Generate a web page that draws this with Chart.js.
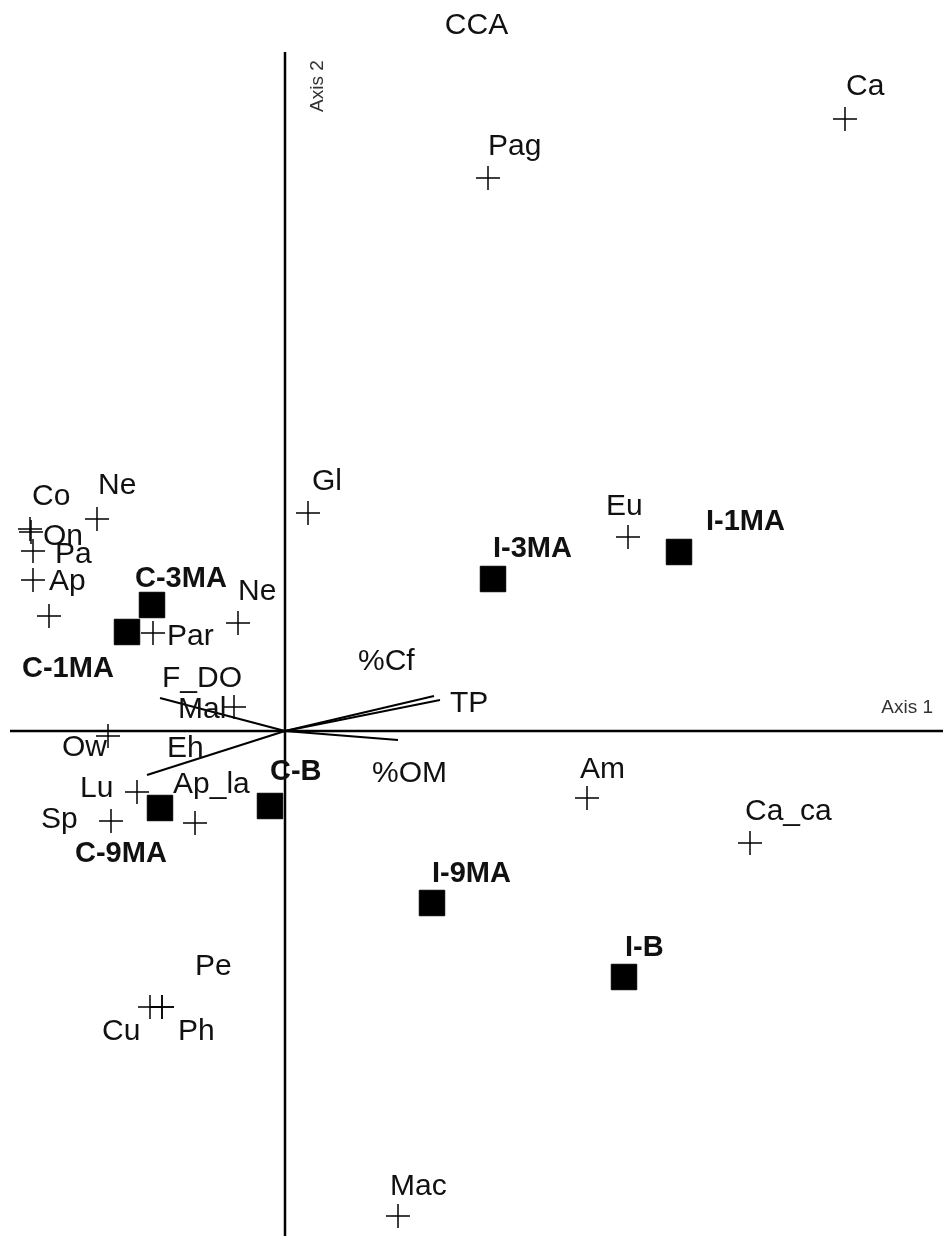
<!DOCTYPE html>
<html>
<head>
<meta charset="utf-8">
<script src="https://cdn.jsdelivr.net/npm/chart.js@4.4.0/dist/chart.umd.min.js"></script>
<style>
  html, body { margin: 0; padding: 0; background: #fff; }
  #wrapper { width: 943px; height: 1236px; }
</style>
</head>
<body>
<div id="wrapper"><canvas id="ccaChart"></canvas></div>
<script>
// species scores (crosses)
var speciesNames = ['Ca', 'Pag', 'Gl', 'Co', 'On', 'Ne', 'Pa', 'Ap', '', 'Ne', 'Par', 'Mal',
  'Ow', 'Lu', 'Sp', 'Ap_la', 'Am', 'Ca_ca', 'Eu', 'Cu', 'Ph', 'Pe', 'Mac'];
var speciesX = [5.60, 2.03, 0.23, -2.55, -2.54, -1.88, -2.52, -2.52, -2.36, -0.47, -1.32, -0.51,
  -1.77, -1.48, -1.74, -0.90, 3.02, 4.65, 3.43, -1.35, -1.23, -1.23, 1.13];
var speciesY = [6.12, 5.53, 2.18, 2.02, 1.99, 2.12, 1.80, 1.51, 1.15, 1.08, 0.98, 0.24,
  -0.05, -0.61, -0.90, -0.92, -0.67, -1.12, 1.94, -2.76, -2.76, -2.76, -4.85];

// sample scores (squares)
var sampleNames = ['C-3MA', 'C-1MA', 'C-9MA', 'C-B', 'I-3MA', 'I-1MA', 'I-9MA', 'I-B'];
var sampleX = [-1.33, -1.58, -1.25, -0.15, 2.08, 3.94, 1.47, 3.39];
var sampleY = [1.26, 0.99, -0.77, -0.75, 1.52, 1.79, -1.72, -2.46];

// environmental variables (arrows from the origin)
var envNames = ['TP', '%Cf', '%OM', 'F_DO', 'Eh'];
var envX = [1.55, 1.49, 1.13, -1.25, -1.38];
var envY = [0.31, 0.35, -0.09, 0.33, -0.44];

var xMin = -2.75, xMax = 6.58, yMin = -5.05, yMax = 6.79;

// where each label sits relative to its mark, in px
var speciesLabelOffsets = [[1, -24], [0, -23], [4, -23], [2, -24], [12, 13], [1, -25], [22, 12], [16, 10], [0, 0],
  [0, -23], [14, 12], [-56, 11], [-46, 20], [-57, 5], [-70, 7], [-22, -30], [-7, -20], [-5, -23], [-22, -22],
  [-48, 33], [16, 33], [33, -32], [-8, -21]];
var sampleLabelOffsets = [[-17, -18], [-105, 45], [-85, 54], [0, -26], [0, -22], [27, -22], [0, -21], [1, -21]];
var envLabelOffsets = [[10, 12], [-76, -26], [-26, 42], [2, -11], [20, -18]];

function points(xs, ys) {
  return xs.map(function (x, i) { return { x: x, y: ys[i] }; });
}

var datasets = [];

envNames.forEach(function (name, i) {
  datasets.push({
    type: 'line',
    data: [{ x: 0, y: 0 }, { x: envX[i], y: envY[i] }],
    borderColor: '#000',
    borderWidth: 2,
    pointRadius: 0,
    fill: false,
    clip: false,
    labels: ['', name],
    labelOffsets: [[0, 0], envLabelOffsets[i]],
    labelFont: '30px "Liberation Sans", Arial, sans-serif'
  });
});

datasets.push({
  data: points(speciesX, speciesY),
  pointStyle: 'cross',
  pointRadius: 12,
  borderColor: '#000',
  borderWidth: 1.5,
  clip: false,
  labels: speciesNames,
  labelOffsets: speciesLabelOffsets,
  labelFont: '30px "Liberation Sans", Arial, sans-serif'
});

datasets.push({
  data: points(sampleX, sampleY),
  pointStyle: 'rect',
  pointRadius: 18,
  backgroundColor: '#000',
  borderColor: '#000',
  borderWidth: 1,
  clip: false,
  labels: sampleNames,
  labelOffsets: sampleLabelOffsets,
  labelFont: 'bold 29px "Liberation Sans", Arial, sans-serif'
});

var axesPlugin = {
  id: 'axesAtZero',
  beforeDatasetsDraw: function (chart) {
    var ctx = chart.ctx, area = chart.chartArea;
    var x0 = chart.scales.x.getPixelForValue(0);
    var y0 = chart.scales.y.getPixelForValue(0);
    ctx.save();
    ctx.strokeStyle = '#000';
    ctx.lineWidth = 2.5;
    ctx.beginPath();
    ctx.moveTo(area.left, y0);
    ctx.lineTo(area.right, y0);
    ctx.moveTo(x0, area.top);
    ctx.lineTo(x0, area.bottom);
    ctx.stroke();

    ctx.fillStyle = '#333';
    ctx.font = '19px "Liberation Sans", Arial, sans-serif';
    ctx.textAlign = 'right';
    ctx.fillText('Axis 1', area.right - 10, y0 - 18);
    ctx.translate(x0 + 38, area.top + 60);
    ctx.rotate(-Math.PI / 2);
    ctx.textAlign = 'left';
    ctx.fillText('Axis 2', 0, 0);
    ctx.restore();
  }
};

var labelPlugin = {
  id: 'pointLabels',
  afterDatasetsDraw: function (chart) {
    var ctx = chart.ctx;
    chart.data.datasets.forEach(function (ds, i) {
      if (!ds.labels) return;
      var meta = chart.getDatasetMeta(i);
      ctx.save();
      ctx.font = ds.labelFont;
      ctx.fillStyle = '#111';
      ctx.textAlign = 'left';
      ctx.textBaseline = 'alphabetic';
      meta.data.forEach(function (pt, j) {
        var lab = ds.labels[j];
        if (!lab) return;
        var off = ds.labelOffsets[j];
        ctx.fillText(lab, pt.x + off[0], pt.y + off[1]);
      });
      ctx.restore();
    });
  }
};

new Chart(document.getElementById('ccaChart'), {
  type: 'scatter',
  data: { datasets: datasets },
  options: {
    responsive: true,
    maintainAspectRatio: false,
    animation: false,
    events: [],
    layout: { autoPadding: false, padding: { left: 10, right: 0, top: 0, bottom: 0 } },
    scales: {
      x: { type: 'linear', min: xMin, max: xMax, display: false },
      y: { type: 'linear', min: yMin, max: yMax, display: false }
    },
    plugins: {
      legend: { display: false },
      tooltip: { enabled: false },
      title: {
        display: true,
        text: 'CCA',
        color: '#111',
        font: { family: '"Liberation Sans", Arial, sans-serif', size: 30, weight: 'normal' },
        padding: { top: 8, bottom: 8 }
      }
    }
  },
  plugins: [axesPlugin, labelPlugin]
});
</script>
</body>
</html>
